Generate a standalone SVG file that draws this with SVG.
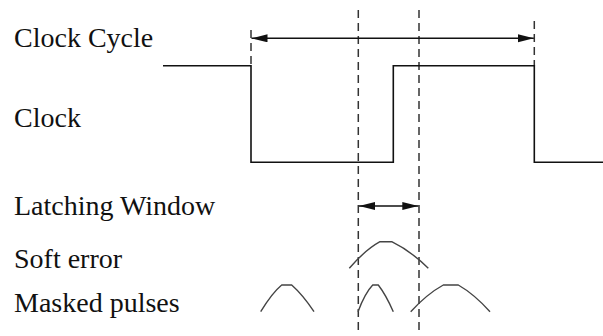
<svg xmlns="http://www.w3.org/2000/svg" width="603" height="336" viewBox="0 0 603 336">
<style>
.lbl{font-family:"Liberation Serif","Times New Roman",serif;font-size:28px;fill:#111}
.sig{fill:none;stroke:#111;stroke-width:1.6}
.dash{fill:none;stroke:#333;stroke-width:1.5;stroke-dasharray:8,5}
.pulse{fill:none;stroke:#444;stroke-width:1.4;stroke-linejoin:round}
.arr{fill:none;stroke:#111;stroke-width:1.5;marker-start:url(#ah);marker-end:url(#ah)}
</style>
<defs>
<marker id="ah" markerUnits="userSpaceOnUse" markerWidth="17" markerHeight="9" refX="16" refY="4" orient="auto-start-reverse">
<path d="M0,0 L16,4 L0,8 z" fill="#111"/>
</marker>
</defs>
<rect width="603" height="336" fill="#fff"/>
<g id="labels">
<text class="lbl" x="14" y="46.7">Clock Cycle</text>
<text class="lbl" x="14" y="126.7">Clock</text>
<text class="lbl" x="14" y="215">Latching Window</text>
<text class="lbl" x="14" y="268.3">Soft error</text>
<text class="lbl" x="14" y="311.7">Masked pulses</text>
</g>
<g id="guides">
<line class="dash" x1="358.3" y1="10" x2="358.3" y2="330"/>
<line class="dash" x1="419" y1="10" x2="419" y2="330"/>
<line class="dash" x1="251" y1="30" x2="251" y2="66"/>
<line class="dash" x1="534.3" y1="21" x2="534.3" y2="66"/>
</g>
<g id="clock">
<path class="sig" d="M163,65.7 H251 V162.3 H393.3 V65.7 H534.3 V162.3 H603"/>
</g>
<g id="connectors">
<line class="arr" x1="251.5" y1="38.3" x2="533.8" y2="38.3"/>
<line class="arr" x1="359" y1="206" x2="418.3" y2="206"/>
</g>
<g id="soft-error">
<path class="pulse" d="M349.3,268.3 Q365,250 380,241.7 L391.7,241.7 Q411,251 428.3,268.3"/>
</g>
<g id="masked-pulses">
<path class="pulse" d="M260.7,311.7 Q272,293 281.7,285 L291.7,285 Q303,295 314,311.7"/>
<path class="pulse" d="M358,311.7 Q365,293 372.7,285 L378.3,285 Q386,295 393.3,311.7"/>
<path class="pulse" d="M410.7,311.7 Q427,294 443.3,285 L458.3,285 Q474,294 490,311.7"/>
</g>
</svg>
